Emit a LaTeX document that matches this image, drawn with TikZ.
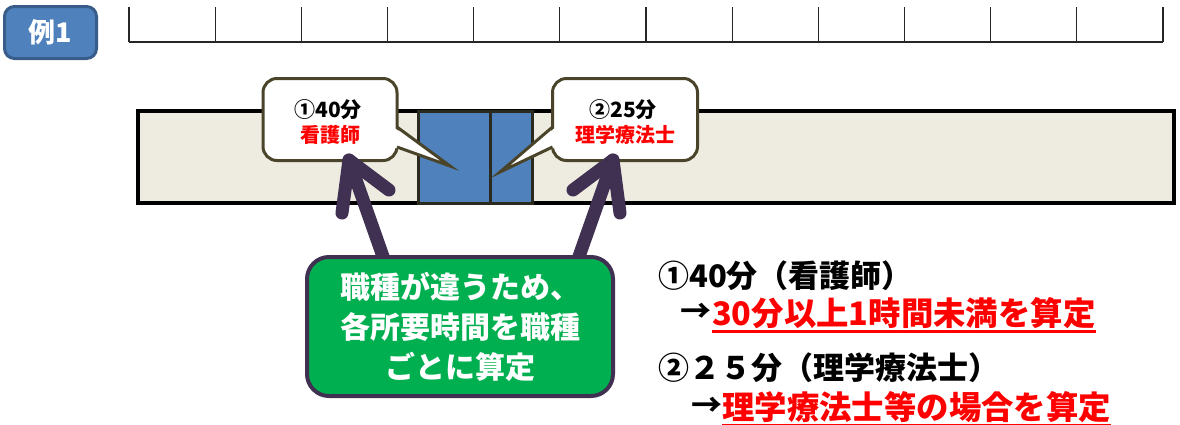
\documentclass[tikz,border=0pt]{standalone}
\usepackage{fontspec}
\setmainfont{Noto Sans CJK JP}
\usetikzlibrary{calc}
\definecolor{badgeblue}{HTML}{4F81BD}
\definecolor{badgeedge}{HTML}{385D8A}
\definecolor{cream}{HTML}{EEECE1}
\definecolor{olivedark}{HTML}{4A452A}
\definecolor{darkedge}{HTML}{2B2A1F}
\definecolor{arrowpurple}{HTML}{403152}
\definecolor{okgreen}{HTML}{00B050}
\definecolor{brightred}{HTML}{FF0000}
\tikzset{
  badge/.style={draw=badgeedge, line width=3pt, fill=badgeblue, rounded corners=10pt,
    minimum width=92pt, minimum height=52pt, inner sep=0pt, text=white,
    font=\fontsize{27}{27}\selectfont\bfseries},
  ruler/.style={line width=1.1pt, black!85},
  bar/.style={draw=black, line width=3.5pt, fill=cream},
  block/.style={draw=darkedge, line width=3pt, fill=badgeblue},
  callout/.style={draw=olivedark, line width=3pt, fill=white, rounded corners=14pt,
    inner sep=0pt},
  ctext/.style={inner sep=0pt, font=\fontsize{21}{21}\selectfont\bfseries},
  cred/.style={inner sep=0pt, text=brightred, font=\fontsize{20}{20}\selectfont\bfseries},
  bigarrow/.style={draw=arrowpurple, line width=13pt, line cap=round, line join=round},
  greenbox/.style={draw=arrowpurple, line width=4pt, fill=okgreen, rounded corners=22pt,
    minimum width=306pt, minimum height=139pt, inner sep=0pt, align=center, text=white,
    font=\fontsize{30}{40}\selectfont\bfseries},
  rtext/.style={inner sep=0pt, anchor=west, font=\fontsize{31}{31}\selectfont\bfseries},
  rred/.style={inner sep=0pt, anchor=west, text=brightred,
    font=\fontsize{32.4}{32.4}\selectfont\bfseries},
  uline/.style={draw=brightred, line width=3pt},
}
\begin{document}
\begin{tikzpicture}[x=1pt,y=-1pt]
\useasboundingbox (0,0) rectangle (1180,424);
% badge
\node[badge] (badge) at (50.5,32.5) {例1};
% ruler
\draw[ruler] (129,42) -- (1163,42);
\foreach \i in {0,...,12} {
  \draw[ruler] ({129+\i*86.1667},7) -- ({129+\i*86.1667},42);
}
% main bar
\draw[bar] (138,111) rectangle (1174,203);
\draw[block] (418,111) rectangle (490,203);
\draw[block] (490,111) rectangle (532,203);
% callout 1
\node[callout, minimum width=134pt, minimum height=82pt] (c1) at (330,119.5) {};
\coordinate (p1) at (450,166);
\fill[white] (393,127) -- (p1) -- (393,147) -- cycle;
\draw[draw=olivedark, line width=3pt, line join=miter] (397,127) -- (p1) -- (397,147);
\node[ctext] (c1a) at (328,110) {①40分};
\node[cred] (c1b) at (330,135) {看護師};
% callout 2
\node[callout, minimum width=145pt, minimum height=82pt] (c2) at (625,119.5) {};
\coordinate (p2) at (500,172);
\fill[white] (556,127) -- (p2) -- (556,147) -- cycle;
\draw[draw=olivedark, line width=3pt, line join=miter] (552.5,127) -- (p2) -- (552.5,147);
\node[ctext] (c2a) at (623,110) {②25分};
\node[cred] (c2b) at (625,135) {理学療法士};
% arrows
\coordinate (a1base) at (386,265);
\coordinate (a1tip) at (349,160);
\coordinate (a1l) at (342,213);
\coordinate (a1r) at (389,190);
\coordinate (a2base) at (576,265);
\coordinate (a2tip) at (613,160);
\coordinate (a2l) at (573,190);
\coordinate (a2r) at (620,213);
\draw[bigarrow] (a1base) -- (a1tip);
\draw[bigarrow] (a1l) -- (a1tip) -- (a1r);
\draw[bigarrow] (a2base) -- (a2tip);
\draw[bigarrow] (a2l) -- (a2tip) -- (a2r);
% green box
\node[greenbox] (g) at (460,326.5) {職種が違うため、\\各所要時間を職種\\ごとに算定};
% right text
\node[rtext] (l1) at (658,276) {①40分（看護師）};
\node[rtext] (ar1) at (680,313) {→};
\node[rred] (r1) at (712,313) {30分以上1時間未満を算定};
\draw[uline] ($(r1.south west)+(0,3)$) -- ($(r1.south east)+(0,3)$);
\node[rtext] (l2) at (658,368) {②２５分（理学療法士）};
\node[rtext] (ar2) at (691,407) {→};
\node[rred] (r2) at (722,407) {理学療法士等の場合を算定};
\draw[uline] ($(r2.south west)+(0,3)$) -- ($(r2.south east)+(0,3)$);
\end{tikzpicture}
\end{document}
